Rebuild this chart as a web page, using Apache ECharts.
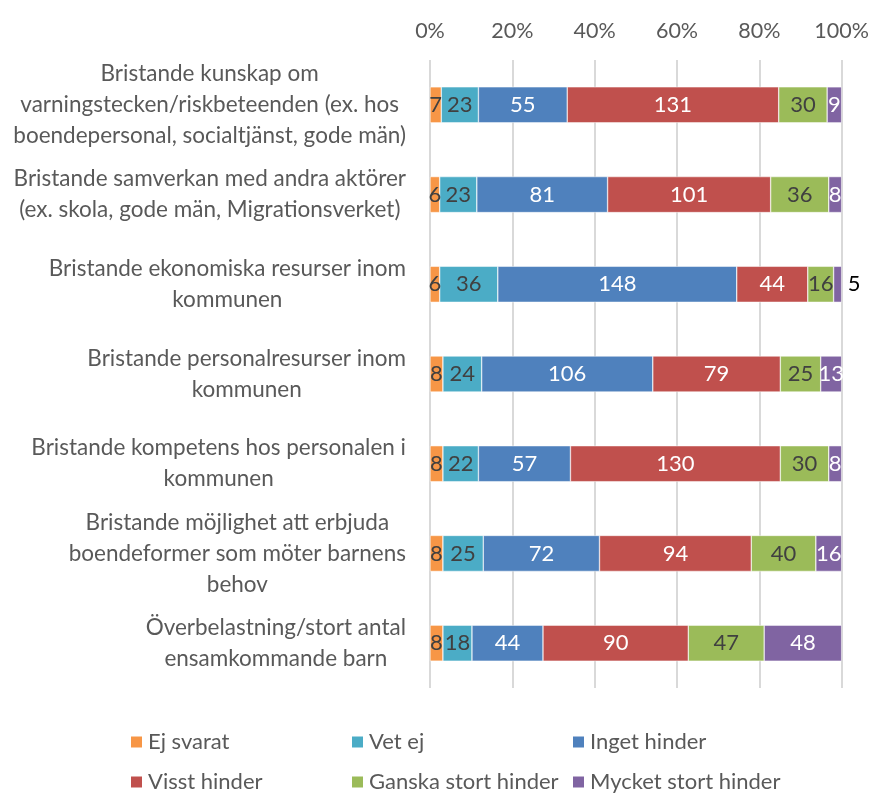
<!DOCTYPE html>
<html>
<head>
<meta charset="utf-8">
<script src="https://cdn.jsdelivr.net/npm/echarts@6/dist/echarts.min.js"></script>
<style>
  html, body { margin: 0; padding: 0; background: #fff; }
  #chart { width: 872px; height: 794px; }
</style>
</head>
<body>
<div id="chart"></div>
<script>
const kategorier = [
    'Bristande kunskap om\nvarningstecken/riskbeteenden (ex. hos\nboendepersonal, socialtjänst, gode män)',
    'Bristande samverkan med andra aktörer\n(ex. skola, gode män, Migrationsverket)',
    'Bristande ekonomiska resurser inom\nkommunen',
    'Bristande personalresurser inom\nkommunen',
    'Bristande kompetens hos personalen i\nkommunen',
    'Bristande möjlighet att erbjuda\nboendeformer som möter barnens\nbehov',
    'Överbelastning/stort antal\nensamkommande barn'
]

const ejSvarat = [7, 6, 6, 8, 8, 8, 8]
const vetEj = [23, 23, 36, 24, 22, 25, 18]
const ingetHinder = [55, 81, 148, 106, 57, 72, 44]
const visstHinder = [131, 101, 44, 79, 130, 94, 90]
const ganskaStort = [30, 36, 16, 25, 30, 40, 47]
const mycketStort = [9, 8, 5, 13, 8, 16, 48]

const procentTicks = [0, 20, 40, 60, 80, 100]

const serier = [
    { namn: 'Ej svarat', data: ejSvarat, farg: '#F79646', text: '#404040' },
    { namn: 'Vet ej', data: vetEj, farg: '#4BACC6', text: '#404040' },
    { namn: 'Inget hinder', data: ingetHinder, farg: '#4F81BD', text: '#ffffff' },
    { namn: 'Visst hinder', data: visstHinder, farg: '#C0504D', text: '#ffffff' },
    { namn: 'Ganska stort hinder', data: ganskaStort, farg: '#9BBB59', text: '#404040' },
    { namn: 'Mycket stort hinder', data: mycketStort, farg: '#8064A2', text: '#ffffff' }
]

// summa per rad for 100% staplar
const summor = kategorier.map((k, i) => serier.reduce((s, ser) => s + ser.data[i], 0))

const font = 'Lato'

const chartDiv = document.getElementById('chart')
const myChart = echarts.init(chartDiv)

myChart.setOption({
    animation: false,
    textStyle: { fontFamily: font },
    grid: { left: 430, right: 27, top: 60, bottom: 106 },
    xAxis: {
        type: 'value',
        position: 'top',
        min: procentTicks[0],
        max: procentTicks[procentTicks.length - 1],
        interval: 20,
        axisLine: { show: false },
        axisTick: { show: false },
        axisLabel: { formatter: '{value}%', color: '#595959', fontSize: 21.5, fontFamily: font, margin: 18 },
        splitLine: { lineStyle: { color: '#D9D9D9', width: 2 } }
    },
    yAxis: {
        type: 'category',
        inverse: true,
        data: kategorier,
        axisLine: { show: false },
        axisTick: { show: false },
        axisLabel: {
            margin: 24,
            align: 'right',
            formatter: (v) => v.split('\n').map(r => '{c|' + r + '}').join('\n'),
            rich: {
                c: { align: 'center', color: '#595959', fontSize: 22.5, lineHeight: 31, fontFamily: font }
            }
        }
    },
    legend: {
        left: 124,
        top: 721,
        width: 680,
        itemWidth: 13,
        itemHeight: 13,
        itemGap: 8,
        icon: 'rect',
        textStyle: { color: '#595959', fontSize: 22, fontFamily: font, width: 194, overflow: 'none', lineHeight: 32 },
        data: serier.map(s => s.namn)
    },
    series: serier.map(s => ({
        name: s.namn,
        type: 'bar',
        stack: 'total',
        barWidth: 36,
        itemStyle: { color: s.farg, borderColor: '#ffffff', borderWidth: 0.5 },
        label: {
            show: true,
            position: 'inside',
            color: s.text,
            fontSize: 22,
            fontFamily: font,
            formatter: (p) => p.data.antal
        },
        data: s.data.map((v, i) => {
            const item = { value: v / summor[i] * 100, antal: v }
            // liten stapel: etiketten hamnar utanfor
            if (s.namn === 'Mycket stort hinder' && v < 6) {
                item.label = { position: 'right', color: '#000000', distance: 6 }
            }
            return item
        }),
        labelLayout: { hideOverlap: false }
    }))
})
</script>
</body>
</html>
